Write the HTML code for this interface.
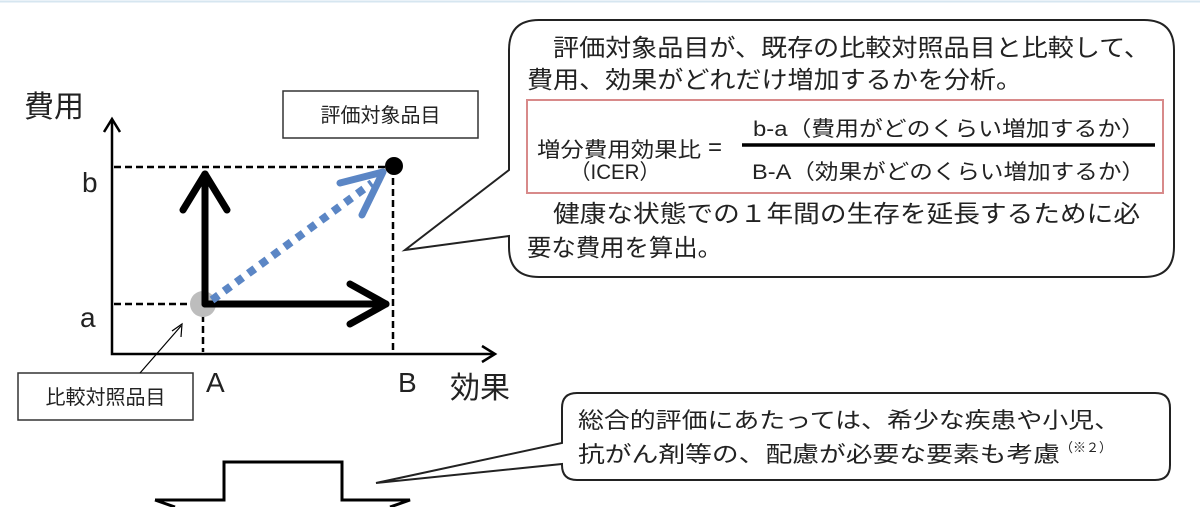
<!DOCTYPE html>
<html><head><meta charset="utf-8"><style>
html,body{margin:0;padding:0;background:#fff;}
svg{display:block;font-family:"Liberation Sans","Noto Sans CJK JP",sans-serif;}
</style></head><body>
<svg width="1200" height="507" viewBox="0 0 1200 507" xmlns="http://www.w3.org/2000/svg">
<line x1="0" y1="1.5" x2="1200" y2="1.5" stroke="#d6e6f0" stroke-width="2"/>
<!-- axes -->
<polyline points="112,120 112,354 494,354" fill="none" stroke="#000" stroke-width="2.5"/>
<polyline points="104,132 112,119 120,132" fill="none" stroke="#000" stroke-width="2.5"/>
<polyline points="482,346 495,354 482,362" fill="none" stroke="#000" stroke-width="2.5"/>
<!-- dashed -->
<g stroke="#000" stroke-width="2.5" stroke-dasharray="7,4" fill="none">
<line x1="114" y1="167" x2="393" y2="167"/>
<line x1="114" y1="304" x2="200" y2="304"/>
<line x1="203" y1="304" x2="203" y2="352"/>
<line x1="393" y1="167" x2="393" y2="352"/>
</g>
<circle cx="203" cy="304" r="13" fill="#bdbdbd"/>
<!-- thick arrows -->
<g stroke="#000" stroke-width="7" fill="none" stroke-linecap="round" stroke-linejoin="round">
<line x1="205" y1="304" x2="205" y2="174"/>
<polyline points="183,210 205,174 227,210"/>
<line x1="205" y1="304" x2="386" y2="304"/>
<polyline points="350,284 386,304 350,324"/>
</g>
<!-- blue dotted -->
<line x1="212" y1="300" x2="372" y2="183" stroke="#5b86c5" stroke-width="8" stroke-dasharray="8,7"/>
<polyline points="340,183 383,172 362,215" fill="none" stroke="#5b86c5" stroke-width="7" stroke-linecap="round" stroke-linejoin="round"/>
<circle cx="394" cy="166" r="9" fill="#000"/>
<!-- labels -->
<text x="24" y="117" font-size="30" fill="#222">費用</text>
<text x="82" y="192" font-size="28" fill="#222">b</text>
<text x="80" y="327" font-size="28" fill="#222">a</text>
<text x="206" y="392" font-size="28" fill="#222">A</text>
<text x="398" y="392" font-size="28" fill="#222">B</text>
<text x="450" y="398" font-size="30" fill="#222">効果</text>
<rect x="283" y="91" width="195" height="47" fill="#fff" stroke="#333" stroke-width="1.5"/>
<text x="380.5" y="122" font-size="20" text-anchor="middle" fill="#222">評価対象品目</text>
<rect x="18" y="373" width="175" height="47" fill="#fff" stroke="#333" stroke-width="1.5"/>
<text x="105.5" y="404" font-size="20" text-anchor="middle" fill="#222">比較対照品目</text>
<line x1="140" y1="373" x2="181" y2="326" stroke="#000" stroke-width="1.2"/>
<polyline points="172,331 182,324 181,337" fill="none" stroke="#000" stroke-width="1.2"/>
<!-- callout 1 -->
<path d="M539,20 H1144 Q1174,20 1174,50 V247 Q1174,277 1144,277 H539 Q509,277 509,247 V236 L405,250 L509,170 V50 Q509,20 539,20 Z" fill="#fff" stroke="#222" stroke-width="2"/>
<g font-size="24" fill="#222">
<text x="553" y="56" textLength="597" lengthAdjust="spacingAndGlyphs">評価対象品目が、既存の比較対照品目と比較して、</text>
<text x="527" y="88" textLength="495" lengthAdjust="spacingAndGlyphs">費用、効果がどれだけ増加するかを分析。</text>
<text x="553" y="222" textLength="587" lengthAdjust="spacingAndGlyphs">健康な状態での１年間の生存を延長するために必</text>
<text x="527" y="256" textLength="195" lengthAdjust="spacingAndGlyphs">要な費用を算出。</text>
</g>
<rect x="527" y="100" width="636" height="93" fill="none" stroke="#d88a8a" stroke-width="2"/>
<text x="537" y="157" font-size="21" fill="#222" textLength="164" lengthAdjust="spacingAndGlyphs">増分費用効果比</text>
<text x="570" y="179" font-size="21" fill="#222" textLength="90" lengthAdjust="spacingAndGlyphs">（ICER）</text>
<text x="708" y="155" font-size="24" fill="#222">=</text>
<line x1="742" y1="145" x2="1155" y2="145" stroke="#000" stroke-width="3.5"/>
<text x="753" y="136" font-size="21" fill="#222" textLength="392" lengthAdjust="spacingAndGlyphs">b-a（費用がどのくらい増加するか）</text>
<text x="752" y="179" font-size="21" fill="#222" textLength="393" lengthAdjust="spacingAndGlyphs">B-A（効果がどのくらい増加するか）</text>
<!-- callout 2 -->
<path d="M577,393 H1155 Q1170,393 1170,408 V465 Q1170,480 1155,480 H577 Q562,480 562,465 V464 L376,483 L562,443 V408 Q562,393 577,393 Z" fill="#fff" stroke="#222" stroke-width="2"/>
<text x="578" y="428" font-size="22" fill="#222" textLength="542" lengthAdjust="spacingAndGlyphs">総合的評価にあたっては、希少な疾患や小児、</text>
<text x="578" y="462" font-size="22" fill="#222" textLength="482" lengthAdjust="spacingAndGlyphs">抗がん剤等の、配慮が必要な要素も考慮</text>
<text x="1060" y="452" font-size="13" fill="#222">（※２）</text>
<!-- block arrow -->
<path d="M155,500 H224 V462 H342 V500 H410 L390,507 M175,507 L155,500" fill="none" stroke="#000" stroke-width="3"/>
</svg>
</body></html>
